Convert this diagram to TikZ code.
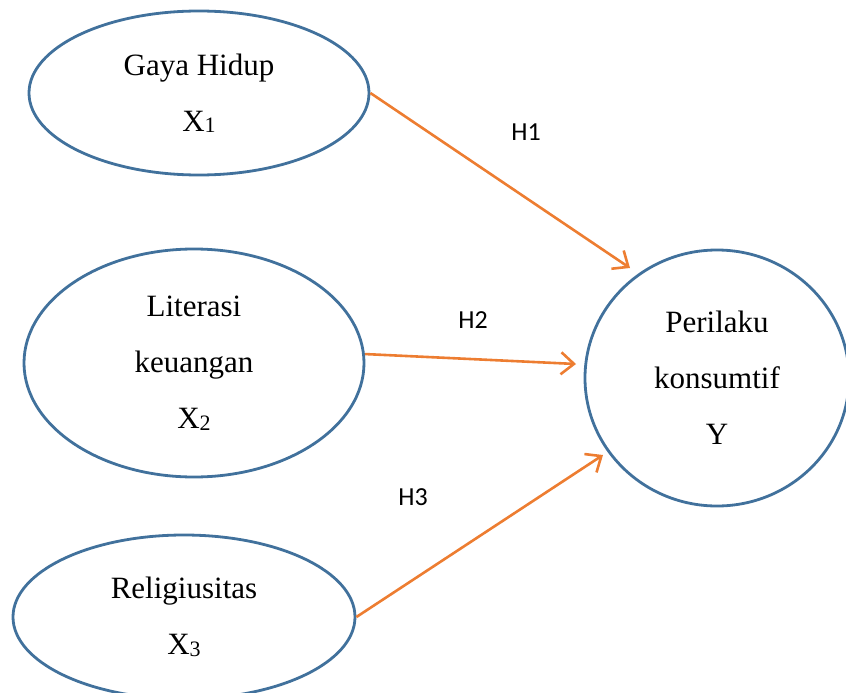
\documentclass[tikz,border=0pt]{standalone}
\usepackage{fontspec}
\setmainfont{Liberation Serif}
\newfontfamily\hfont{Carlito}
\usepackage{tikz}
\usetikzlibrary{arrows.meta}
\usetikzlibrary{shapes.geometric}
\definecolor{varblue}{HTML}{41719C}
\definecolor{pathorange}{HTML}{ED7D31}
\newcommand{\subidx}[1]{\raisebox{-1.5pt}{\fontsize{22}{22}\selectfont #1}}
\tikzstyle{every node}+=[inner sep=0pt]
\tikzstyle{var} = [ellipse, draw=varblue, line width=2.8pt, text centered, align=center, font=\fontsize{31}{56}\selectfont]
\tikzstyle{line} = [draw=pathorange, line width=2.6pt, -{Straight Barb[length=13pt,width=22pt]}]
\tikzstyle{hyp} = [font=\hfont\fontsize{26}{30}\selectfont]
\begin{document}
\begin{tikzpicture}[x=1pt, y=-1pt]
            \clip (0,0) rectangle (846,693);
            % Place nodes
            \node [var, minimum width=340pt, minimum height=164pt] (gaya) at (199,93) {Gaya Hidup\\X\subidx{1}};
            \node [var, minimum width=340pt, minimum height=228pt] (lit) at (194,363) {Literasi\\keuangan\\X\subidx{2}};
            \node [var, minimum width=342pt, minimum height=164pt] (rel) at (184,617) {Religiusitas\\X\subidx{3}};
            \node [var, minimum width=264pt, minimum height=256pt] (per) at (717,378) {Perilaku\\konsumtif\\Y};
            \node [hyp] (h1) at (526,132) {H1};
            \node [hyp] (h2) at (473,320) {H2};
            \node [hyp] (h3) at (413,497) {H3};
            \coordinate (t1) at (630,268);
            \coordinate (t2) at (576,364);
            \coordinate (t3) at (603,455);
            % Draw edges
            \path [line] (gaya.east) -- (t1);
            \path [line] (lit.3) -- (t2);
            \path [line] (rel.east) -- (t3);
\end{tikzpicture}
\end{document}
